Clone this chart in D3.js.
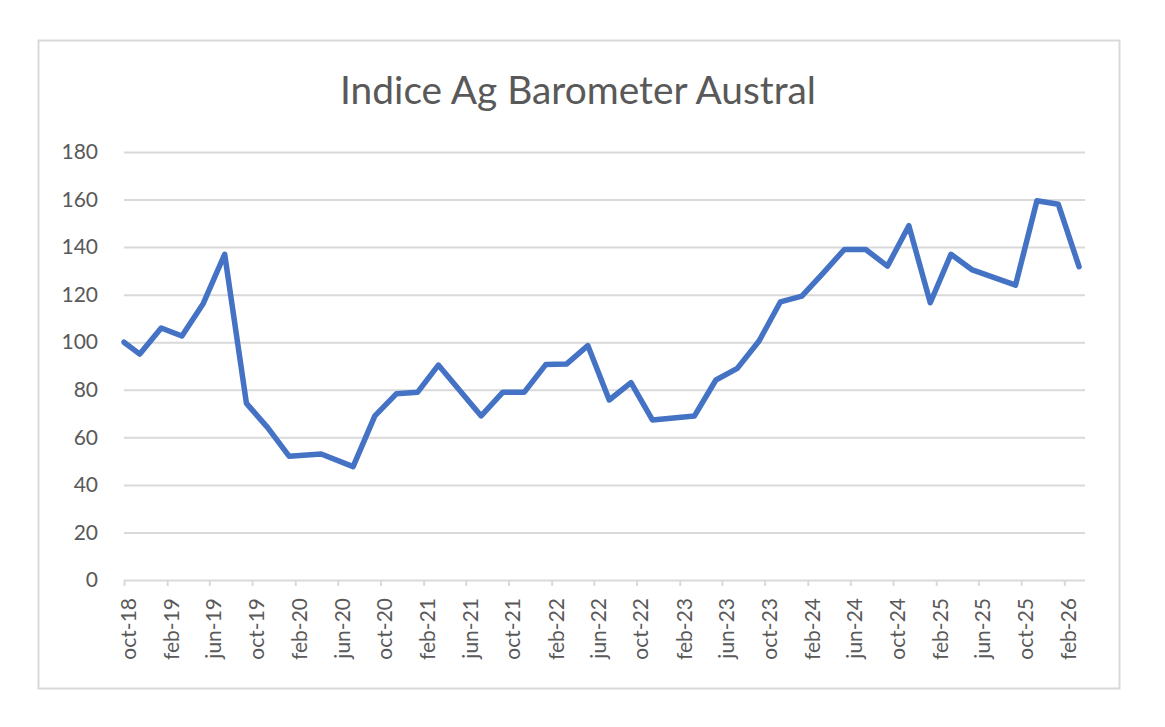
<!DOCTYPE html>
<html>
<head>
<meta charset="utf-8">
<script src="https://cdn.jsdelivr.net/npm/d3@7"></script>
<style>
  html, body { margin: 0; padding: 0; background: #ffffff; }
  svg { display: block; }
  text { font-family: Lato, "Open Sans", sans-serif; fill: #595959; }
</style>
</head>
<body>
<svg id="chart" width="1165" height="727"></svg>
<script>
// ---- Data ----
const chartTitle = "Indice Ag Barometer Austral";
const dates = [
  "2018-10-01","2018-11-15","2019-01-15","2019-03-15","2019-05-15","2019-07-15",
  "2019-09-15","2019-11-15","2020-01-15","2020-04-15","2020-07-15","2020-09-15",
  "2020-11-15","2021-01-15","2021-03-15","2021-07-15","2021-09-15","2021-11-15",
  "2022-01-15","2022-03-15","2022-05-15","2022-07-15","2022-09-15","2022-11-15",
  "2023-03-15","2023-05-15","2023-07-15","2023-09-15","2023-11-15","2024-01-15",
  "2024-03-15","2024-05-15","2024-07-15","2024-09-15","2024-11-15","2025-01-15",
  "2025-03-15","2025-05-15","2025-09-15","2025-11-15","2026-01-15","2026-03-15"
];
const values = [
  100, 95, 106, 102.6, 116.3, 137,
  74.3, 64, 52, 53, 47.7, 69,
  78.3, 79, 90.4, 69, 79, 79,
  90.6, 90.8, 98.6, 75.7, 83, 67.3,
  69, 84.1, 89, 100.5, 117, 119.4,
  129, 139, 139, 132, 149, 116.6,
  137, 130.4, 124, 159.5, 158, 131.8
];
const xTickLabels = [
  "oct-18","feb-19","jun-19","oct-19","feb-20","jun-20","oct-20","feb-21",
  "jun-21","oct-21","feb-22","jun-22","oct-22","feb-23","jun-23","oct-23",
  "feb-24","jun-24","oct-24","feb-25","jun-25","oct-25","feb-26"
];
const yTicks = [0, 20, 40, 60, 80, 100, 120, 140, 160, 180];
const axisStart = "2018-10-01";
const axisEnd = "2026-04-01";

// ---- Layout ----
const svg = d3.select("#chart");
const parse = d3.timeParse("%Y-%m-%d");
const plot = { left: 124, right: 1085, top: 152, bottom: 580 };

const x = d3.scaleTime()
  .domain([parse(axisStart), parse(axisEnd)])
  .range([plot.left, plot.right]);
const y = d3.scaleLinear()
  .domain([0, 180])
  .range([plot.bottom, plot.top]);

// outer frame
svg.append("rect")
  .attr("x", 38.5).attr("y", 40.5)
  .attr("width", 1081).attr("height", 648)
  .attr("fill", "#ffffff")
  .attr("stroke", "#d9d9d9").attr("stroke-width", 2);

// title
const title = svg.append("text")
  .attr("x", 578).attr("y", 104)
  .attr("text-anchor", "middle")
  .style("font-size", "32px")
  .text(chartTitle);
const tw = title.node().getComputedTextLength();
title.style("font-size", (32 * 476 / tw) + "px");

// gridlines + y axis labels
const yAxis = d3.axisLeft(y).tickValues(yTicks.slice(1))
  .tickSize(-(plot.right - plot.left)).tickPadding(26).tickFormat(d3.format("d"));
const gy = svg.append("g").attr("transform", `translate(${plot.left},0)`).call(yAxis);
gy.select(".domain").remove();
gy.selectAll(".tick line").attr("stroke", "#d9d9d9").attr("stroke-width", 2);
gy.selectAll(".tick text").style("font-size", "21px").attr("fill", "#595959");
// zero label (axis line drawn by x axis)
svg.append("text")
  .attr("x", plot.left - 26).attr("y", y(0)).attr("dy", "0.32em")
  .attr("text-anchor", "end").style("font-size", "21px")
  .text(d3.format("d")(yTicks[0]));

// x axis
const tickDates = xTickLabels.map((_, i) => d3.timeMonth.offset(parse(axisStart), i * 4));
const xAxis = d3.axisBottom(x).tickValues(tickDates).tickSize(6)
  .tickFormat((d, i) => xTickLabels[i]);
const gx = svg.append("g").attr("transform", `translate(0,${plot.bottom})`).call(xAxis);
gx.select(".domain").attr("stroke", "#d9d9d9").attr("stroke-width", 2)
  .attr("d", `M${plot.left},0.5H${plot.right}`);
gx.selectAll(".tick line").attr("stroke", "#d9d9d9").attr("stroke-width", 2);
gx.selectAll(".tick text")
  .style("font-size", "21px").attr("fill", "#595959")
  .attr("text-anchor", "end")
  .attr("transform", "translate(4,18) rotate(-90)")
  .attr("x", 0).attr("y", 0).attr("dy", "0.35em");

// line
const data = dates.map((d, i) => ({ date: parse(d), value: values[i] }));
const line = d3.line().x(d => x(d.date)).y(d => y(d.value));
svg.append("path")
  .datum(data)
  .attr("d", line)
  .attr("fill", "none")
  .attr("stroke", "#4472c4")
  .attr("stroke-width", 5.5)
  .attr("stroke-linejoin", "round")
  .attr("stroke-linecap", "round");
</script>
</body>
</html>
